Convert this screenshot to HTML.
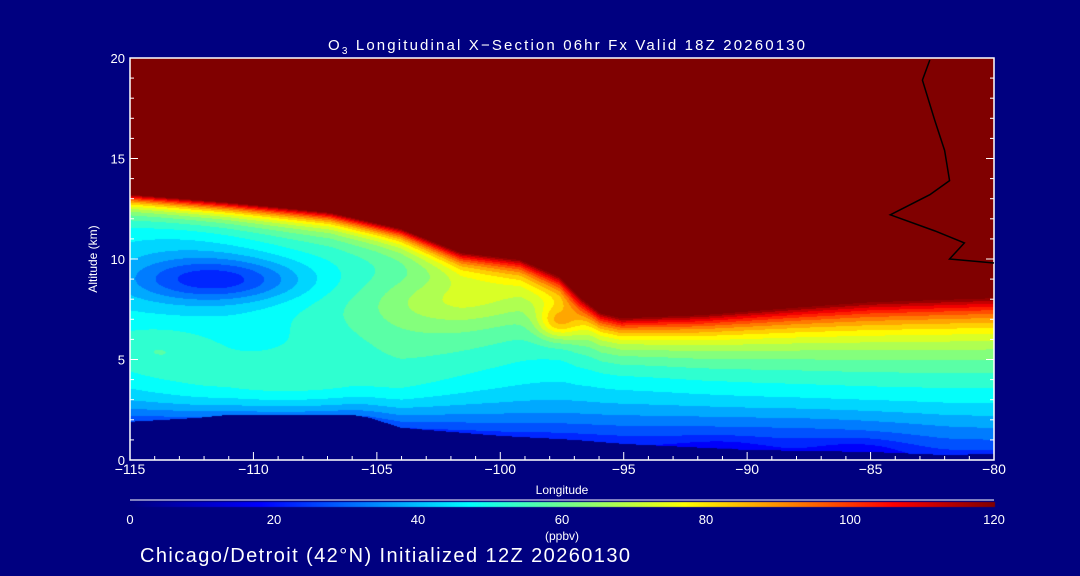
<!DOCTYPE html>
<html><head><meta charset="utf-8">
<style>
html,body{margin:0;padding:0;background:#000080;}
#wrap{position:relative;width:1080px;height:576px;background:#000080;overflow:hidden;font-family:"Liberation Sans",sans-serif;color:#fff;}
canvas{position:absolute;left:0;top:0;}
svg{position:absolute;left:0;top:0;}
svg text{fill:#fff;font-family:"Liberation Sans",sans-serif;}
</style></head>
<body>
<div id="wrap">
<canvas id="cv" width="1080" height="576"></canvas>
<svg id="sv" width="1080" height="576"></svg>
</div>
<script>
// ---- data ----
const tropLon = [-115,-110.95,-106.9,-104.05,-101.6,-99.2,-97.6,-96.8,-95.95,-95.1,-91.9,-87.8,-85,-80];
const tropAlt = [13.2,12.8,12.3,11.5,10.3,9.95,9.1,8.1,7.3,7.05,7.2,7.6,7.85,8.05];
const widthLon = [-115,-105,-101,-98,-97,-96,-95,-90,-85,-80];
const widthKm  = [0.6,0.7,0.9,1.1,1.2,1.1,1.1,1.4,1.7,1.8];
const terrLon = [-115,-112.2,-111,-106,-105.3,-104,-102,-100,-97,-95,-90,-85,-82,-80];
const terrAlt = [1.9,2.1,2.25,2.25,2.1,1.6,1.4,1.2,1.0,0.8,0.5,0.4,0.25,0.3];
const blobLon = [-111.35,-113,-103,-101.5,-114,-109,-91,-85.5,-97.6,-88];
const blobAlt = [8.95,10,7,8.0,5.5,3.5,0.5,0.5,6.9,1.5];
const blobRx  = [3.5,4,5,3,2.5,7,2,2,0.9,8];
const blobRy  = [1.1,2.5,2.5,1.2,1.2,1.8,0.6,0.6,0.9,1.2];
const blobAmp = [-22,-8,12,10,8,16,-6,-6,28,-5];
const zeroLon = [-82.6,-82.9,-82.4,-82.0,-81.8,-82.6,-84.2,-82.4,-81.2,-81.8,-80];
const zeroAlt = [19.9,18.9,16.9,15.4,13.9,13.2,12.2,11.4,10.8,10.0,9.8];
const xTicks = [-115,-110,-105,-100,-95,-90,-85,-80];
const yTicks = [0,5,10,15,20];
const cbTicks = [0,20,40,60,80,100,120];
const cStops = [0,18,33,47,62,77,92,106,120];
const cCols = ["#000080","#0000ff","#0080ff","#00ffff","#80ff80","#ffff00","#ff8000","#ff0000","#800000"];

// ---- axes ----
const X0=130,X1=994,Y0=460,Y1=58;
const xs = lon => X0+(lon+115)/35*(X1-X0);
const ys = alt => Y0-alt/20*(Y0-Y1);
const lonOf = x => (x-X0)/(X1-X0)*35-115;
const altOf = y => (Y0-y)/(Y0-Y1)*20;
function interp(ax,ay,v){ if(v<=ax[0])return ay[0]; for(let i=1;i<ax.length;i++){ if(v<=ax[i]){const t=(v-ax[i-1])/(ax[i]-ax[i-1]);return ay[i-1]+t*(ay[i]-ay[i-1]);}} return ay[ay.length-1]; }
function hex(c){return [parseInt(c.slice(1,3),16),parseInt(c.slice(3,5),16),parseInt(c.slice(5,7),16)];}
const cRGB=cCols.map(hex);
function cmap(v){ v=Math.max(0,Math.min(120,v)); for(let i=1;i<cStops.length;i++){ if(v<=cStops[i]){const t=(v-cStops[i-1])/(cStops[i]-cStops[i-1]);const a=cRGB[i-1],b=cRGB[i];return [a[0]+t*(b[0]-a[0]),a[1]+t*(b[1]-a[1]),a[2]+t*(b[2]-a[2])];}} return cRGB[cRGB.length-1]; }

// ---- field ----
const cv=document.getElementById('cv');const ctx=cv.getContext('2d');
ctx.fillStyle='#000080';ctx.fillRect(0,0,1080,576);
const img=ctx.getImageData(X0,Y1,X1-X0,Y0-Y1);
for(let py=0;py<Y0-Y1;py++){ const alt=altOf(Y1+py+0.5);
 for(let px=0;px<X1-X0;px++){ const lon=lonOf(X0+px+0.5);
  const tr=interp(terrLon,terrAlt,lon); let v;
  if(alt<tr){v=0;} else {
   const h=alt-tr;
   let base=22+28*(1-Math.exp(-h/2.2));
   for(let k=0;k<blobLon.length;k++){const dx=(lon-blobLon[k])/blobRx[k],dy=(alt-blobAlt[k])/blobRy[k];base+=blobAmp[k]*Math.exp(-(dx*dx+dy*dy));}
   const tp=interp(tropLon,tropAlt,lon); const d=alt-tp;
   if(d>=0)v=120; else {const w=interp(widthLon,widthKm,lon); v=base+(120-base)*Math.exp(d/w);}
   v=Math.min(120,Math.floor(v/5)*5+2.5);
  }
  const c=v===0?[0,0,128]:cmap(v); const i=(py*(X1-X0)+px)*4;
  img.data[i]=c[0];img.data[i+1]=c[1];img.data[i+2]=c[2];img.data[i+3]=255;
 }}
ctx.putImageData(img,X0,Y1);
// colorbar
for(let x=X0;x<=X1;x++){const c=cmap((x-X0)/(X1-X0)*120);ctx.fillStyle=`rgb(${c[0]|0},${c[1]|0},${c[2]|0})`;ctx.fillRect(x,502,1,5);}

// ---- svg overlay ----
const NS='http://www.w3.org/2000/svg';const sv=document.getElementById('sv');
function mk(tag,attrs,txt){const e=document.createElementNS(NS,tag);for(const k in attrs)e.setAttribute(k,attrs[k]);if(txt!==undefined)e.textContent=txt;sv.appendChild(e);return e;}
let e;
e=mk('path',{d:`M${X0},${Y0}H${X1}V${Y1}H${X0}Z`,fill:'none',stroke:'#fff','stroke-width':1.5});


e=mk('polyline',{points:zeroLon.map((l,i)=>xs(l)+','+ys(zeroAlt[i])).join(' '),fill:'none',stroke:'#000','stroke-width':1.5});


for(let l=-115;l<=-80;l++){const maj=(l%5===0);
 e=mk('line',{x1:xs(l),x2:xs(l),y1:Y0,y2:Y0-(maj?8:4),stroke:'#fff'});
 
 }
xTicks.forEach(l=>{e=mk('text',{x:xs(l),y:474,'font-size':14,'text-anchor':'middle'},'\u2212'+Math.abs(l));
 
 });
for(let a=0;a<=20;a++){const maj=(a%5===0);
 e=mk('line',{x1:X0,x2:X0+(maj?8:4),y1:ys(a),y2:ys(a),stroke:'#fff'});
 
 
 e=mk('line',{x1:X1,x2:X1-(maj?8:4),y1:ys(a),y2:ys(a),stroke:'#fff'});
 
 }
yTicks.forEach(a=>{e=mk('text',{x:125,y:ys(a)+5,'font-size':13,'text-anchor':'end'},String(a));
 
 });
e=mk('text',{x:562,y:494,'font-size':12,'text-anchor':'middle'},'Longitude');


e=mk('text',{x:97,y:259,'font-size':12,'text-anchor':'middle',transform:'rotate(-90 97 259)'},'Altitude (km)');


e=mk('line',{x1:X0,x2:X1,y1:500,y2:500,stroke:'#fff'});


cbTicks.forEach(v=>{e=mk('text',{x:X0+v/120*(X1-X0),y:524,'font-size':13,'text-anchor':'middle'},String(v));
 
 });
e=mk('text',{x:562,y:540,'font-size':12,'text-anchor':'middle'},'(ppbv)');


e=mk('text',{x:328,y:50,'font-size':15,textLength:477,lengthAdjust:'spacing'});


e.setAttribute('xml:space','preserve');
e.innerHTML='O<tspan font-size="10" dy="4">3</tspan><tspan dy="-4"> Longitudinal X\u2212Section 06hr  Fx Valid 18Z 20260130</tspan>';
e=mk('text',{x:140,y:562,'font-size':20,textLength:490,lengthAdjust:'spacing'},'Chicago/Detroit (42\u00b0N) Initialized 12Z 20260130');


</script>
</body></html>
